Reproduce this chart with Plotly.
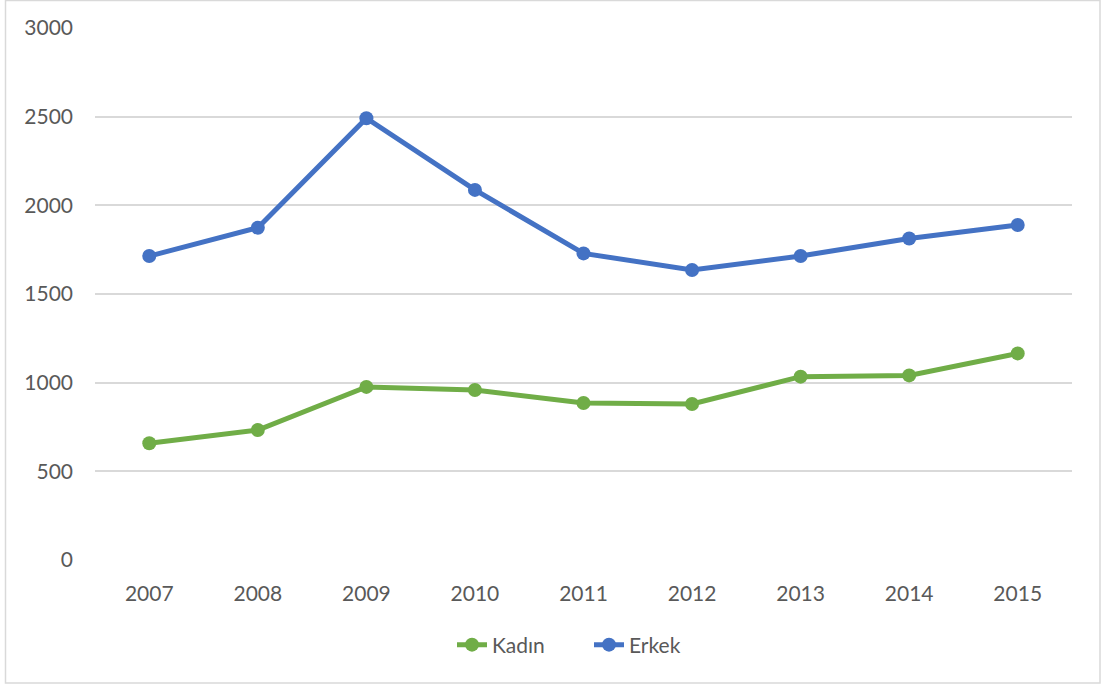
import plotly.graph_objects as go

years = ["2007", "2008", "2009", "2010", "2011", "2012", "2013", "2014", "2015"]
kadin = [658, 733, 976, 959, 885, 880, 1034, 1041, 1165]
erkek = [1714, 1874, 2491, 2087, 1729, 1635, 1714, 1813, 1889]
y_ticks = [0, 500, 1000, 1500, 2000, 2500, 3000]

FONT = "Lato, Open Sans, sans-serif"
GRAY = "#595959"
FS = 21

fig = go.Figure()
fig.add_trace(go.Scatter(
    x=years, y=kadin, name="Kadın", mode="lines+markers",
    line=dict(color="#70AD47", width=5),
    marker=dict(color="#70AD47", size=14),
))
fig.add_trace(go.Scatter(
    x=years, y=erkek, name="Erkek", mode="lines+markers",
    line=dict(color="#4472C4", width=5),
    marker=dict(color="#4472C4", size=14),
))

L, R, T, B = 95, 31, 28, 128
W, H = 1103, 688
pw, ph = W - L - R, H - T - B

def px_x(x):
    return (x - L) / pw

def px_y(y):
    return (H - B - y) / ph

fig.update_layout(
    width=W, height=H,
    margin=dict(l=L, r=R, t=T, b=B, pad=0),
    paper_bgcolor="white", plot_bgcolor="white",
    font=dict(family=FONT, size=FS, color=GRAY),
    showlegend=True,
    legend=dict(
        orientation="h", x=px_x(589), xanchor="center",
        y=px_y(645), yanchor="middle",
        font=dict(family=FONT, size=FS, color=GRAY),
        itemsizing="trace", entrywidth=92,
        bgcolor="rgba(0,0,0,0)",
    ),
    xaxis=dict(
        type="category", range=[-0.5, 8.5],
        showgrid=False, zeroline=False, showline=False,
        ticks="", tickfont=dict(family=FONT, size=FS, color=GRAY),
        ticklabelstandoff=19,
    ),
    yaxis=dict(
        range=[0, 3000], tickvals=y_ticks,
        showgrid=True, gridcolor="#D9D9D9", gridwidth=1.5,
        zeroline=False, showline=False, ticks="",
        tickfont=dict(family=FONT, size=FS, color=GRAY),
        ticklabelstandoff=21,
    ),
    shapes=[dict(
        type="rect", xref="paper", yref="paper",
        x0=px_x(5.5), x1=px_x(1100), y0=px_y(683), y1=px_y(0.5),
        line=dict(color="#D9D9D9", width=1.5), fillcolor="rgba(0,0,0,0)",
        layer="below",
    )],
)

fig.write_html(
    "out.html",
    config={"displayModeBar": False},
    post_script="document.body.style.margin='0';document.body.style.overflow='hidden';",
)
